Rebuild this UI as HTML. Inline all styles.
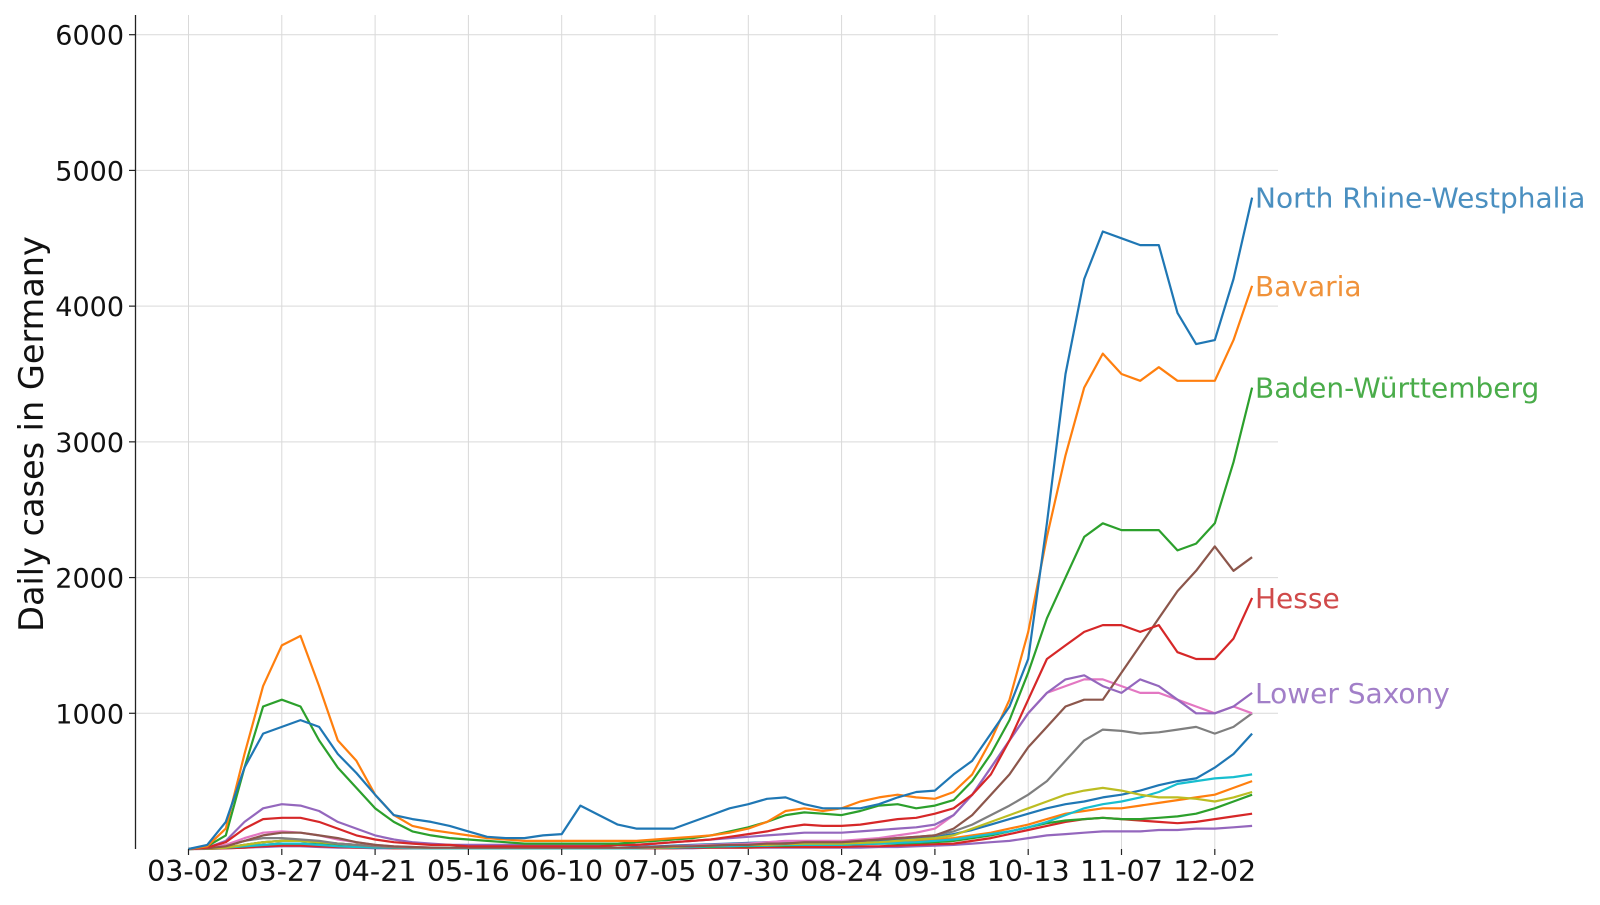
<!DOCTYPE html>
<html><head><meta charset="utf-8"><style>
html,body{margin:0;padding:0;background:#fff;}
svg text{font-family:"DejaVu Sans","Liberation Sans",sans-serif;}
</style></head><body>
<svg id="chart" width="1600" height="900" xmlns="http://www.w3.org/2000/svg">
<g id="grid"></g>
<g id="lines"></g>
<g id="axes"></g>
<g id="labels"></g>
<text transform="translate(43,434) rotate(-90)" text-anchor="middle" font-size="33.5" fill="#111">Daily cases in Germany</text>
</svg>
<script>
const xTicks = ["03-02","03-27","04-21","05-16","06-10","07-05","07-30","08-24","09-18","10-13","11-07","12-02"];
const yTicks = [1000,2000,3000,4000,5000,6000];
const stepDays = 5;
const nrw = [0,30,200,600,850,900,950,900,700,560,400,250,220,200,170,130,90,80,80,100,110,320,250,180,150,150,150,200,250,300,330,370,380,330,300,300,300,330,380,420,430,550,650,850,1050,1400,2400,3500,4200,4550,4500,4450,4450,3950,3720,3750,4200,4800];
const bavaria = [0,20,150,700,1200,1500,1570,1200,800,650,400,250,170,140,120,100,80,70,60,60,60,60,60,60,60,70,80,90,100,120,150,200,280,300,280,300,350,380,400,380,370,420,550,800,1100,1600,2300,2900,3400,3650,3500,3450,3550,3450,3450,3450,3750,4150];
const bw = [0,20,100,600,1050,1100,1050,800,600,450,300,200,130,100,80,70,60,50,40,40,40,40,40,40,50,60,70,80,100,130,160,200,250,270,260,250,280,320,330,300,320,360,500,700,950,1300,1700,2000,2300,2400,2350,2350,2350,2200,2250,2400,2850,3400];
const hesse = [0,10,50,150,220,230,230,200,150,100,70,50,40,30,30,20,20,20,20,20,20,20,20,30,30,40,50,60,70,90,110,130,160,180,170,170,180,200,220,230,260,300,400,550,800,1100,1400,1500,1600,1650,1650,1600,1650,1450,1400,1400,1550,1850];
const lowerSaxony = [0,10,60,200,300,330,320,280,200,150,100,70,50,40,30,30,30,30,30,30,30,30,30,30,30,40,50,60,70,80,90,100,110,120,120,120,130,140,150,160,180,250,400,600,800,1000,1150,1250,1280,1200,1150,1250,1200,1100,1000,1000,1050,1150];
const brown = [0,5,20,60,100,120,120,100,80,50,30,20,15,10,10,10,10,10,10,10,10,10,10,10,10,15,20,20,25,30,30,40,40,50,50,50,60,70,80,90,100,150,250,400,550,750,900,1050,1100,1100,1300,1500,1700,1900,2050,2230,2050,2150];
const gray = [0,5,30,60,80,80,70,60,40,30,20,15,10,10,10,10,10,10,10,10,10,10,10,10,10,15,20,25,30,35,40,45,50,50,50,50,60,70,80,90,100,130,180,250,320,400,500,650,800,880,870,850,860,880,900,850,900,1000];
const pink = [0,5,30,80,120,130,120,100,70,50,30,20,15,10,10,10,10,10,10,10,10,10,10,10,10,15,20,25,30,35,40,50,60,60,60,60,70,80,100,120,150,250,400,600,800,1000,1150,1200,1250,1250,1200,1150,1150,1100,1050,1000,1050,1000];
const olive = [0,2,10,30,50,60,60,50,40,30,20,15,10,10,10,10,10,10,10,10,10,10,10,10,10,10,15,20,25,30,30,30,35,40,40,40,45,50,60,70,80,100,150,200,250,300,350,400,430,450,430,400,380,380,370,350,380,420];
const cyan = [0,2,10,20,30,40,40,30,20,15,10,10,5,5,5,5,5,5,5,5,5,5,5,5,5,10,10,15,20,20,25,25,30,30,30,30,35,40,45,50,60,70,90,110,130,160,200,250,300,330,350,380,420,480,500,520,530,550];
const blue2 = [0,2,10,30,50,60,60,50,40,30,20,15,10,10,10,10,10,10,10,10,10,10,10,10,15,20,25,30,35,40,45,50,55,55,50,50,55,60,70,80,90,110,140,180,220,260,300,330,350,380,400,430,470,500,520,600,700,850];
const orange2 = [0,2,10,30,50,60,60,50,40,30,20,15,10,10,10,10,10,10,10,10,10,10,10,10,10,15,20,20,25,30,30,35,40,40,40,40,45,50,55,60,70,80,100,120,150,180,220,260,280,300,300,320,340,360,380,400,450,500];
const green2 = [0,2,10,20,30,40,40,35,30,20,15,10,10,5,5,5,5,5,5,5,5,5,5,5,5,10,10,15,15,20,20,25,25,30,30,30,35,40,40,45,50,60,80,100,130,160,190,210,220,230,220,220,230,240,260,300,350,400];
const red2 = [0,1,5,10,20,25,25,20,15,10,10,5,5,5,5,5,5,5,5,5,5,5,5,5,5,5,5,10,10,10,10,15,15,15,15,15,20,20,25,30,35,40,60,80,110,140,170,200,220,230,220,210,200,190,200,220,240,260];
const purple2 = [0,1,5,10,15,20,20,15,10,10,5,5,5,5,5,5,5,5,5,5,5,5,5,5,5,5,5,5,10,10,10,10,10,10,10,10,10,15,15,20,25,30,40,50,60,80,100,110,120,130,130,130,140,140,150,150,160,170];

const NS="http://www.w3.org/2000/svg";
const x0=188.5, pxPerDay=93.3/25, yZero=849, pxPerUnit=(849-34.7)/6000;
const xScale=d=>x0+d*pxPerDay;
const yScale=v=>yZero-v*pxPerUnit;
function mk(tag,attrs,parent){const e=document.createElementNS(NS,tag);for(const k in attrs)e.setAttribute(k,attrs[k]);parent.appendChild(e);return e;}
const grid=document.getElementById('grid'), axes=document.getElementById('axes'), lines=document.getElementById('lines'), labels=document.getElementById('labels');

xTicks.forEach((t,i)=>{
  const x=xScale(i*25);
  const g=mk('line',{x1:x,x2:x,y1:15,y2:849,stroke:'#d9d9d9','stroke-width':1},grid);
  
  
  const tk=mk('line',{x1:x,x2:x,y1:849,y2:855,stroke:'#222','stroke-width':1.2},axes);
  
  
  const tx=mk('text',{x:x,y:881,'text-anchor':'middle','font-size':28.5,fill:'#111'},axes);
  tx.textContent=t;
  
  
});
yTicks.forEach(v=>{
  const y=yScale(v);
  const g=mk('line',{x1:135,x2:1278,y1:y,y2:y,stroke:'#d9d9d9','stroke-width':1},grid);
  
  
  const tk=mk('line',{x1:129,x2:135,y1:y,y2:y,stroke:'#222','stroke-width':1.2},axes);
  
  
  const tx=mk('text',{x:124,y:y+10,'text-anchor':'end','font-size':27,fill:'#111'},axes);
  tx.textContent=v;
  
  
});
const ax=mk('line',{x1:135.5,x2:135.5,y1:15,y2:849,stroke:'#222','stroke-width':1.3},axes);



const series=[
 ['purple2',purple2,'#9467bd'],['red2',red2,'#d62728'],['green2',green2,'#2ca02c'],['orange2',orange2,'#ff7f0e'],
 ['blue2',blue2,'#1f77b4'],['cyan',cyan,'#17becf'],['olive',olive,'#bcbd22'],['gray',gray,'#7f7f7f'],
 ['pink',pink,'#e377c2'],['brown',brown,'#8c564b'],['lower-saxony',lowerSaxony,'#9467bd'],['hesse',hesse,'#d62728'],
 ['baden-wurttemberg',bw,'#2ca02c'],['bavaria',bavaria,'#ff7f0e'],['north-rhine-westphalia',nrw,'#1f77b4']
];
series.forEach(([name,vals,col])=>{
  const pts=vals.map((v,i)=>xScale(i*stepDays).toFixed(1)+','+yScale(v).toFixed(1)).join(' ');
  const p=mk('polyline',{points:pts,fill:'none',stroke:col,'stroke-width':2.2,'stroke-linejoin':'round'},lines);
  
  
});
const lab=[['North Rhine-Westphalia',nrw,'#4a8fc0'],['Bavaria',bavaria,'#f0923a'],['Baden-Württemberg',bw,'#4aac4a'],['Hesse',hesse,'#d04a4a'],['Lower Saxony',lowerSaxony,'#a27fc8']];
lab.forEach(([t,vals,col])=>{
  const tx=mk('text',{x:1255,y:yScale(vals[vals.length-1])+10,'font-size':28,fill:col},labels);
  tx.textContent=t;
  
  
});
</script>
</body></html>
